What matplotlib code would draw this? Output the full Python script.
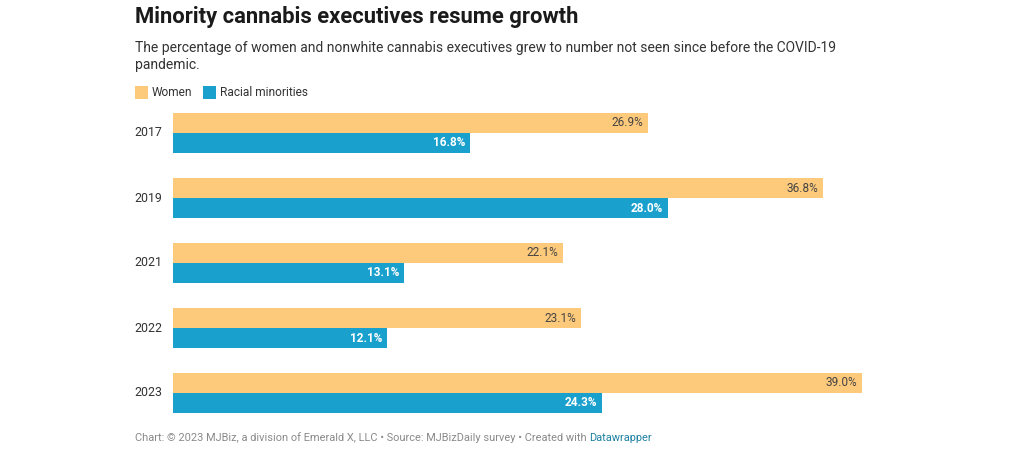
import matplotlib
matplotlib.use("Agg")
import matplotlib.pyplot as plt
from matplotlib.patches import Rectangle
import numpy as np

years = ["2017", "2019", "2021", "2022", "2023"]
women = [26.9, 36.8, 22.1, 23.1, 39.0]
minorities = [16.8, 28.0, 13.1, 12.1, 24.3]
series_names = ["Women", "Racial minorities"]
colors = ["#fdc97b", "#1aa0cc"]

title = "Minority cannabis executives resume growth"
subtitle = ("The percentage of women and nonwhite cannabis executives grew to number not seen since before the COVID-19\n"
            "pandemic.")
footer = "Chart: © 2023 MJBiz, a division of Emerald X, LLC • Source: MJBizDaily survey • Created with "
footer_link = "Datawrapper"

plt.rcParams['font.family'] = ['Roboto', 'DejaVu Sans']

W, H = 1024, 457
fig = plt.figure(figsize=(W / 100, H / 100), dpi=100)
fig.patch.set_facecolor("white")

def fx(px):
    return px / W

def fy(py):
    return 1 - py / H

# axes area: x 173..862 (0..39), y 113..413
ax = fig.add_axes([fx(173), fy(413), (862 - 173) / W, 300 / H])
bh = 20 / 65
n = len(years)
pos = np.arange(n)
ax.barh(pos - bh / 2, women, height=bh, color=colors[0], linewidth=0)
ax.barh(pos + bh / 2, minorities, height=bh, color=colors[1], linewidth=0)
ax.set_xlim(0, max(women))
ax.set_ylim(n - 1 + bh, -bh)
ax.axis("off")

for i, (w, m) in enumerate(zip(women, minorities)):
    ax.annotate(f"{w:.1f}%", (w, i - bh / 2), xytext=(-3.5, 0), textcoords="offset points",
                ha="right", va="center", fontsize=8.5, color="#444444")
    ax.annotate(f"{m:.1f}%", (m, i + bh / 2), xytext=(-3.5, 0), textcoords="offset points",
                ha="right", va="center", fontsize=8.5, color="white", fontweight="bold")
    ax.annotate(years[i], (0, i), xytext=(-7.5, 0), textcoords="offset points",
                ha="right", va="center", fontsize=8.9, color="#333333")

fig.text(fx(135), fy(17), title, fontsize=15.8, fontweight="bold", color="#1a1a1a",
         ha="left", va="center")
fig.text(fx(135), fy(56.5), subtitle, fontsize=10.0, color="#333333", ha="left", va="center",
         linespacing=1.22)

# legend
lx = [135, 203]
for name, c, x in zip(series_names, colors, lx):
    fig.patches.append(Rectangle((fx(x), fy(99)), 13 / W, 13 / H, transform=fig.transFigure,
                                 facecolor=c, edgecolor="none"))
    fig.text(fx(x + 17), fy(92), name, fontsize=8.6, color="#333333", ha="left", va="center")

t = fig.text(fx(135), fy(438), footer, fontsize=7.9, color="#8a8a8a", ha="left", va="center")
fig.canvas.draw()
bb = t.get_window_extent()
fig.text(bb.x1 / W, fy(438), footer_link, fontsize=7.9, color="#1d81a2", ha="left", va="center")

fig.savefig("out.png", dpi=100, facecolor="white")
